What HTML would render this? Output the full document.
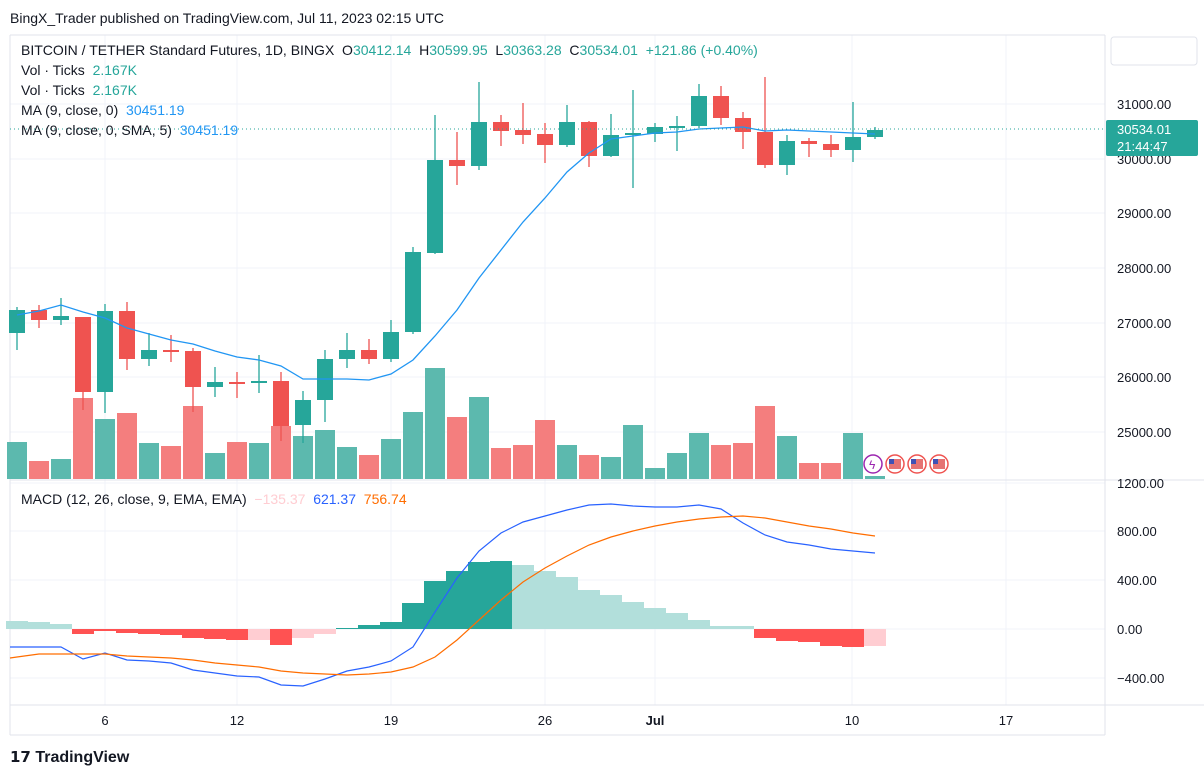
<!DOCTYPE html>
<html><head><meta charset="utf-8"><style>
body{margin:0;width:1204px;height:780px;background:#fff;font-family:"Liberation Sans",Arial,sans-serif;overflow:hidden;position:relative}
.t{position:absolute;white-space:nowrap}
.g{color:#26a69a}
</style></head><body>
<svg id="s" width="1204" height="780" style="position:absolute;left:0;top:0"></svg>
<div class="t" style="left:10px;top:10px;font-size:14px;color:#131722">BingX_Trader published on TradingView.com, Jul 11, 2023 02:15 UTC</div>
<div class="t" style="left:21px;top:42px;font-size:14px;color:#131722">BITCOIN / TETHER Standard Futures, 1D, BINGX &nbsp;O<span class="g">30412.14</span> &nbsp;H<span class="g">30599.95</span> &nbsp;L<span class="g">30363.28</span> &nbsp;C<span class="g">30534.01</span> &nbsp;<span class="g">+121.86 (+0.40%)</span></div>
<div class="t" style="left:21px;top:62px;font-size:14px;color:#131722">Vol · Ticks &nbsp;<span class="g">2.167K</span></div>
<div class="t" style="left:21px;top:82px;font-size:14px;color:#131722">Vol · Ticks &nbsp;<span class="g">2.167K</span></div>
<div class="t" style="left:21px;top:102px;font-size:14px;color:#131722">MA (9, close, 0) &nbsp;<span style="color:#2196f3">30451.19</span></div>
<div class="t" style="left:21px;top:122px;font-size:14px;color:#131722">MA (9, close, 0, SMA, 5) &nbsp;<span style="color:#2196f3">30451.19</span></div>
<div class="t" style="left:21px;top:491px;font-size:14px;color:#131722">MACD (12, 26, close, 9, EMA, EMA) &nbsp;<span style="color:#ffcdd2">−135.37</span> &nbsp;<span style="color:#2962ff">621.37</span> &nbsp;<span style="color:#ff6d00">756.74</span></div>
<div class="t" style="left:10px;top:748px;font-size:16px;color:#131722;font-weight:bold"><span style="font-size:15px">𝟭𝟳</span> TradingView</div>
<script>
const s=document.getElementById('s');let h='';
const X=i=>17+i*22;
[104,159,213,268,323,377,432,483,531,580,629,678].forEach(y=>h+=`<line x1="10" x2="1105" y1="${y}" y2="${y}" stroke="#f0f3fa"/>`);
[105,237,391,545,655,852,1006].forEach(x=>h+=`<line x1="${x}" x2="${x}" y1="35" y2="705" stroke="#f0f3fa"/>`);
h+=`<line x1="10" x2="1204" y1="480" y2="480" stroke="#e0e3eb"/><line x1="10" x2="1204" y1="705" y2="705" stroke="#e0e3eb"/><line x1="1105" x2="1105" y1="35" y2="735" stroke="#e0e3eb"/><line x1="10" x2="10" y1="35" y2="735" stroke="#e0e3eb"/><line x1="10" x2="1105" y1="35" y2="35" stroke="#e0e3eb"/><line x1="10" x2="1105" y1="735" y2="735" stroke="#e0e3eb"/>`;
h+=`<rect x="1111" y="37" width="86" height="28" rx="3" fill="#fff" stroke="#e0e3eb"/>`;
const vol=[[442,1],[461,0],[459,1],[398,0],[419,1],[413,0],[443,1],[446,0],[406,0],[453,1],[442,0],[443,1],[426,0],[436,1],[430,1],[447,1],[455,0],[439,1],[412,1],[368,1],[417,0],[397,1],[448,0],[445,0],[420,0],[445,1],[455,0],[457,1],[425,1],[468,1],[453,1],[433,1],[445,0],[443,0],[406,0],[436,1],[463,0],[463,0],[433,1],[476,1]];
vol.forEach((v,i)=>h+=`<rect x="${X(i)-10}" y="${v[0]}" width="20" height="${479-v[0]}" fill="${v[1]?'#5cb9ae':'#f47e7e'}"/>`);
const c=[[310,333,307,350,1],[310,320,305,328,0],[316,320,298,325,1],[317,392,317,410,0],[311,392,304,413,1],[311,359,302,370,0],[350,359,333,366,1],[350,352,335,362,0],[351,387,348,412,0],[382,387,367,397,1],[382,383,372,398,0],[381,383,355,393,1],[381,426,372,441,0],[400,425,391,443,1],[359,400,350,422,1],[350,359,333,368,1],[350,359,339,364,0],[332,359,320,362,1],[252,332,247,334,1],[160,253,115,254,1],[160,166,132,185,0],[122,166,82,170,1],[122,131,115,146,0],[130,135,103,144,0],[134,145,123,163,0],[122,145,105,147,1],[122,156,121,167,0],[135,156,114,157,1],[133,135,90,188,1],[127,134,123,142,1],[126,128,116,151,1],[96,126,84,128,1],[96,118,86,125,0],[118,132,112,149,0],[132,165,77,168,0],[141,165,135,175,1],[141,144,138,157,0],[144,150,135,157,0],[137,150,102,162,1],[130,137,127,139,1]];
c.forEach((v,i)=>{const col=v[4]?'#26a69a':'#ef5350';const x=X(i);h+=`<line x1="${x}" x2="${x}" y1="${v[2]}" y2="${v[3]}" stroke="${col}" stroke-width="1.3"/><rect x="${x-8}" y="${v[0]}" width="16" height="${Math.max(2,v[1]-v[0])}" fill="${col}"/>`;});
const ma=[315,311,305,312,318,328,334,340,344,351,357,360,366,379,379,379,380,374,360,336,310,278,250,222,198,172,153,139,136,133,132,129,128,127,131,130,131,132,133,134];
h+=`<polyline fill="none" stroke="#2196f3" stroke-width="1.3" points="${ma.map((y,i)=>X(i)+','+y).join(' ')}"/>`;
h+=`<line x1="10" x2="1105" y1="129" y2="129" stroke="#26a69a" stroke-dasharray="1,3"/>`;
[873,895,917,939].forEach((x,k)=>h+=`<circle cx="${x}" cy="464" r="9" fill="#fff" stroke="${k?'#ef5350':'#9c27b0'}" stroke-width="1.5"/>`+(k?`<rect x="${x-6}" y="459" width="12" height="10" fill="#e57373"/><rect x="${x-6}" y="459" width="5" height="5" fill="#3f51b5"/>`:`<text x="${x-4}" y="469" font-size="12" fill="#9c27b0">ϟ</text>`));
const hs=[[621,'l'],[622,'l'],[624,'l'],[634,'r'],[631,'r'],[633,'r'],[634,'r'],[635,'r'],[638,'r'],[639,'r'],[640,'r'],[640,'p'],[645,'r'],[638,'p'],[634,'p'],[628,'g'],[625,'g'],[622,'g'],[603,'g'],[581,'g'],[571,'g'],[562,'g'],[561,'g'],[565,'l'],[571,'l'],[577,'l'],[590,'l'],[595,'l'],[602,'l'],[608,'l'],[613,'l'],[620,'l'],[626,'l'],[626,'l'],[638,'r'],[641,'r'],[642,'r'],[646,'r'],[647,'r'],[646,'p']];
const hc={l:'#b2dfdb',g:'#26a69a',r:'#ff5252',p:'#ffcdd2'};
hs.forEach((v,i)=>{const y=v[0];const t=Math.min(y,629),b=Math.max(y,629);h+=`<rect x="${X(i)-11}" y="${t}" width="22" height="${Math.max(1,b-t)}" fill="${hc[v[1]]}"/>`;});
const mc=[647,647,647,659,653,660,661,663,670,673,676,677,685,686,679,671,667,661,647,612,578,551,533,522,516,510,505,504,506,507,507,505,509,523,535,542,545,549,551,553];
const sg=[657,654,654,654,654,656,657,658,660,663,665,667,671,673,674,675,674,672,667,657,640,620,600,582,568,556,545,537,531,526,522,519,517,516,518,522,526,529,533,536];
h+=`<polyline fill="none" stroke="#2962ff" stroke-width="1.2" points="10,647 ${mc.map((y,i)=>X(i)+','+y).join(' ')}"/>`;
h+=`<polyline fill="none" stroke="#ff6d00" stroke-width="1.2" points="10,658 ${sg.map((y,i)=>X(i)+','+y).join(' ')}"/>`;
const pl=[[104,'31000.00'],[159,'30000.00'],[213,'29000.00'],[268,'28000.00'],[323,'27000.00'],[377,'26000.00'],[432,'25000.00'],[483,'1200.00'],[531,'800.00'],[580,'400.00'],[629,'0.00'],[678,'−400.00']];
pl.forEach(p=>h+=`<text x="1117" y="${p[0]+5}" font-size="13" fill="#131722">${p[1]}</text>`);
h+=`<rect x="1106" y="120" width="92" height="36" rx="2" fill="#26a69a"/><text x="1117" y="134" font-size="13" fill="#fff">30534.01</text><text x="1117" y="151" font-size="13" fill="#fff">21:44:47</text>`;
[[105,'6'],[237,'12'],[391,'19'],[545,'26'],[655,'Jul'],[852,'10'],[1006,'17']].forEach(t=>h+=`<text x="${t[0]}" y="725" font-size="13" fill="#131722" text-anchor="middle" ${t[1]=='Jul'?'font-weight="bold"':''}>${t[1]}</text>`);
s.innerHTML=h;
</script>
</body></html>
